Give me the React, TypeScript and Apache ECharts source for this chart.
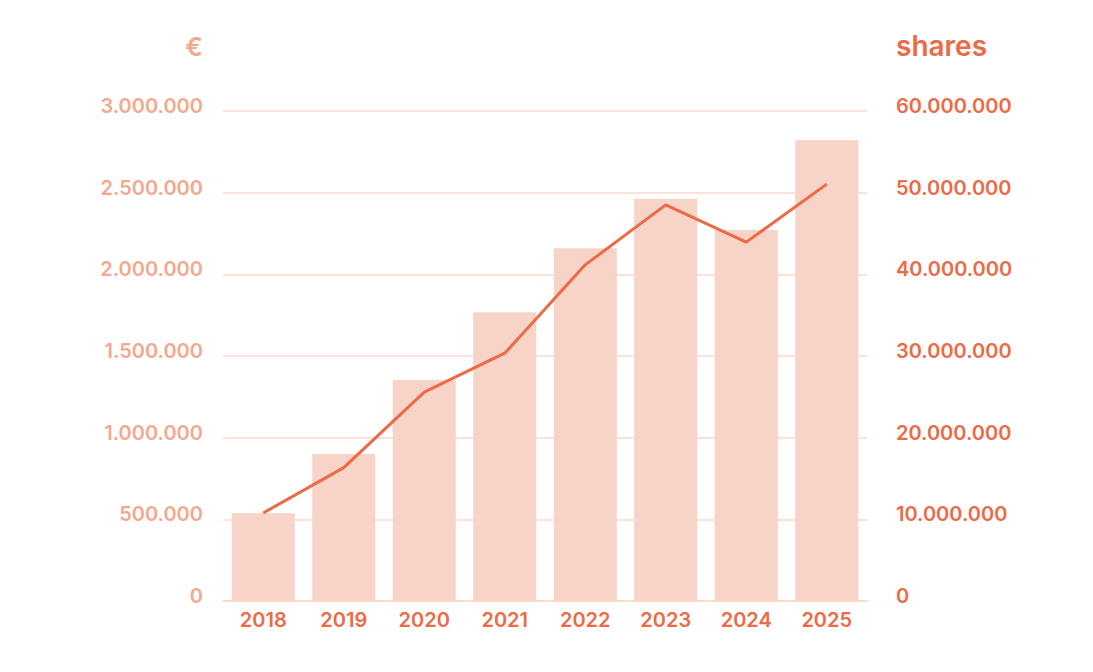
import React, { useEffect, useRef } from "react";
import * as echarts from "echarts";

const years = ["2018", "2019", "2020", "2021", "2022", "2023", "2024", "2025"];
const euroValues = [537000, 900000, 1353000, 1768000, 2160000, 2462000, 2272000, 2821000];
const shareValues = [10780000, 16330000, 25570000, 30340000, 41160000, 48510000, 43940000, 51050000];

const leftTitle = "€";
const rightTitle = "shares";

const fmt = (v: number) => String(Math.round(v)).replace(/\B(?=(\d{3})+(?!\d))/g, ".");

const FONT = "Inter";
const PALE = "#f4a88d";
const STRONG = "#ec6a45";
const BAR = "#f8d3c8";
const GRID = "#fbd8cb";

export default function App() {
  const ref = useRef<HTMLDivElement>(null);
  useEffect(() => {
    document.body.style.margin = "0";
    const chart = echarts.init(ref.current!, null, { renderer: "svg" });
    chart.setOption({
      animation: false,
      grid: { left: 223, right: 226, top: 111, bottom: 71, containLabel: false },
      graphic: [
        {
          type: "text",
          right: 1093 - 203,
          top: 33,
          style: { text: leftTitle, fill: PALE, font: `600 26px ${FONT}`, textAlign: "right" },
        },
        {
          type: "text",
          left: 896,
          top: 32,
          style: { text: rightTitle, fill: STRONG, font: `600 28px ${FONT}` },
        },
      ],
      xAxis: {
        type: "category",
        data: years,
        axisLine: { lineStyle: { color: GRID, width: 1.5 } },
        axisTick: { show: false },
        axisLabel: { color: STRONG, fontFamily: FONT, fontWeight: 600, fontSize: 20, margin: 9 },
      },
      yAxis: [
        {
          type: "value",
          min: 0,
          max: 3000000,
          interval: 500000,
          axisLine: { show: false },
          axisTick: { show: false },
          splitLine: { lineStyle: { color: GRID, width: 1.5 } },
          axisLabel: {
            color: PALE,
            fontFamily: FONT,
            fontWeight: 600,
            fontSize: 20,
            margin: 20,
            verticalAlign: "bottom",
            lineHeight: 10,
            formatter: fmt,
          },
        },
        {
          type: "value",
          min: 0,
          max: 60000000,
          interval: 10000000,
          axisLine: { show: false },
          axisTick: { show: false },
          splitLine: { show: false },
          axisLabel: {
            color: STRONG,
            fontFamily: FONT,
            fontWeight: 600,
            fontSize: 20,
            margin: 29,
            verticalAlign: "bottom",
            lineHeight: 10,
            formatter: fmt,
          },
        },
      ],
      series: [
        {
          type: "bar",
          data: euroValues,
          yAxisIndex: 0,
          barCategoryGap: "21.7%",
          itemStyle: { color: BAR },
        },
        {
          type: "line",
          data: shareValues,
          yAxisIndex: 1,
          symbol: "none",
          lineStyle: { color: STRONG, width: 3 },
        },
      ],
    });
    return () => chart.dispose();
  }, []);
  return <div ref={ref} style={{ width: 1093, height: 672 }} />;
}
